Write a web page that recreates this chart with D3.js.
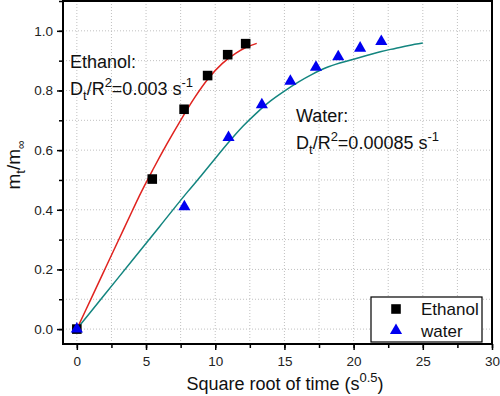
<!DOCTYPE html>
<html>
<head>
<meta charset="utf-8">
<script src="https://cdn.jsdelivr.net/npm/d3@7"></script>
<style>
  body { margin: 0; background: #fff; }
  svg { display: block; font-family: Arial, "Liberation Sans", sans-serif; }
  .grid line { stroke: #c0c0c0; stroke-width: 1; stroke-dasharray: 1,2; }
  .axis path { display: none; }
  .axis line { stroke: #000; stroke-width: 1.5; }
  .axis text { font-size: 13.5px; fill: #222; }
</style>
</head>
<body>
<div id="vis"></div>
<script>
const FRAME_WIDTH = 500;
const FRAME_HEIGHT = 396;
const PLOT = {left: 63, right: 492, top: 1, bottom: 344};

// measured points
const ethanolX = [0, 5.45, 7.75, 9.45, 10.9, 12.2];
const ethanolY = [0, 0.503, 0.737, 0.85, 0.92, 0.957];
const waterX = [0, 7.77, 10.96, 13.37, 15.43, 17.28, 18.89, 20.47, 22.0];
const waterY = [0, 0.41, 0.642, 0.752, 0.831, 0.878, 0.913, 0.942, 0.964];

// fitted curves
const ethanolFitX = [0, 1, 2, 3, 4, 4.5, 5.5, 6.5, 7.5, 8.5, 9.5, 10.5, 11.5, 12.2, 13];
const ethanolFitY = [0, 0.099, 0.198, 0.297, 0.396, 0.445, 0.535, 0.62, 0.70, 0.775, 0.84, 0.89, 0.925, 0.944, 0.958];
const waterFitX = [0, 2, 4, 6, 8, 9, 10, 11, 12, 13, 14, 15, 16, 17, 18, 19, 20, 21, 22, 23, 24, 25];
const waterFitY = [0, 0.115, 0.23, 0.345, 0.46, 0.515, 0.572, 0.628, 0.68, 0.725, 0.765, 0.798, 0.828, 0.854, 0.876, 0.892, 0.905, 0.918, 0.931, 0.941, 0.951, 0.959];

const xTicks = [0, 5, 10, 15, 20, 25, 30];
const yTicks = [0, 0.2, 0.4, 0.6, 0.8, 1.0];
const xMinor = d3.range(0, 30.01, 2.5);
const yMinor = d3.range(0, 1.101, 0.1);

const svg = d3.select("#vis").append("svg")
    .attr("width", FRAME_WIDTH)
    .attr("height", FRAME_HEIGHT);

const X_SCALE = d3.scaleLinear().domain([-1, 30]).range([PLOT.left, PLOT.right]);
const Y_SCALE = d3.scaleLinear().domain([-0.05, 1.1]).range([PLOT.bottom, PLOT.top]);

// dotted grid
const grid = svg.append("g").attr("class", "grid");
grid.selectAll(".gx").data(xMinor.filter(d => d < 30)).enter().append("line")
    .attr("x1", d => X_SCALE(d)).attr("x2", d => X_SCALE(d))
    .attr("y1", PLOT.top).attr("y2", PLOT.bottom);
grid.selectAll(".gy").data(yMinor.filter(d => d < 1.05)).enter().append("line")
    .attr("x1", PLOT.left).attr("x2", PLOT.right)
    .attr("y1", d => Y_SCALE(d)).attr("y2", d => Y_SCALE(d));

// axes: minor then major ticks
svg.append("g").attr("class", "axis")
    .attr("transform", "translate(0," + PLOT.bottom + ")")
    .call(d3.axisBottom(X_SCALE).tickValues(xMinor).tickSize(4).tickFormat(""));
svg.append("g").attr("class", "axis")
    .attr("transform", "translate(0," + PLOT.bottom + ")")
    .call(d3.axisBottom(X_SCALE).tickValues(xTicks).tickSize(6).tickPadding(6).tickFormat(d3.format("d")));
svg.append("g").attr("class", "axis")
    .attr("transform", "translate(" + PLOT.left + ",0)")
    .call(d3.axisLeft(Y_SCALE).tickValues(yMinor).tickSize(4).tickFormat(""));
svg.append("g").attr("class", "axis")
    .attr("transform", "translate(" + PLOT.left + ",0)")
    .call(d3.axisLeft(Y_SCALE).tickValues(yTicks).tickSize(6).tickPadding(4).tickFormat(d3.format(".1f")));

// frame
svg.append("rect")
    .attr("x", PLOT.left).attr("y", PLOT.top)
    .attr("width", PLOT.right - PLOT.left).attr("height", PLOT.bottom - PLOT.top)
    .attr("fill", "none").attr("stroke", "#000").attr("stroke-width", 2);

// fit lines
const line = d3.line()
    .x(d => X_SCALE(d[0]))
    .y(d => Y_SCALE(d[1]))
    .curve(d3.curveMonotoneX);

svg.append("path")
    .datum(ethanolFitX.map((x, i) => [x, ethanolFitY[i]]))
    .attr("d", line).attr("fill", "none")
    .attr("stroke", "#e0231f").attr("stroke-width", 1.5);
svg.append("path")
    .datum(waterFitX.map((x, i) => [x, waterFitY[i]]))
    .attr("d", line).attr("fill", "none")
    .attr("stroke", "#13857f").attr("stroke-width", 1.5);

// markers
const square = d3.symbol().type(d3.symbolSquare).size(92);
const triangle = d3.symbol().type(d3.symbolTriangle).size(64);

svg.selectAll(".eth").data(ethanolX).enter().append("path")
    .attr("d", square)
    .attr("transform", (d, i) => "translate(" + X_SCALE(d) + "," + Y_SCALE(ethanolY[i]) + ")")
    .attr("fill", "#000");
svg.selectAll(".wat").data(waterX).enter().append("path")
    .attr("d", triangle)
    .attr("transform", (d, i) => "translate(" + X_SCALE(d) + "," + Y_SCALE(waterY[i]) + ")")
    .attr("fill", "#0000f0");

// annotations
function addLabel(x, y, name, value) {
    svg.append("text").attr("x", x).attr("y", y)
        .attr("font-size", 18).attr("fill", "#111").text(name);
    const t = svg.append("text").attr("x", x).attr("y", y + 27)
        .attr("font-size", 18).attr("fill", "#111");
    t.append("tspan").text("D");
    t.append("tspan").attr("font-size", 13).attr("dy", 5).text("t");
    t.append("tspan").attr("dy", -5).text("/R");
    t.append("tspan").attr("font-size", 13).attr("dy", -8).text("2");
    t.append("tspan").attr("dy", 8).text("=" + value + " s");
    t.append("tspan").attr("font-size", 13).attr("dy", -8).text("-1");
}
addLabel(70, 68, "Ethanol:", "0.003");
addLabel(296, 122, "Water:", "0.00085");

// axis titles
const xt = svg.append("text")
    .attr("x", 285).attr("y", 390)
    .attr("text-anchor", "middle").attr("font-size", 18).attr("fill", "#111");
xt.append("tspan").text("Square root of time (s");
xt.append("tspan").attr("font-size", 13).attr("dy", -8).text("0.5");
xt.append("tspan").attr("dy", 8).text(")");

const yt = svg.append("text")
    .attr("transform", "translate(20,165) rotate(-90)")
    .attr("text-anchor", "middle").attr("font-size", 19).attr("fill", "#111");
yt.append("tspan").text("m");
yt.append("tspan").attr("font-size", 13).attr("dy", 5).text("t");
yt.append("tspan").attr("dy", -5).text("/m");
yt.append("tspan").attr("font-size", 12).attr("dy", 5).text("\u221E");

// legend
const legend = svg.append("g");
legend.append("rect")
    .attr("x", 371).attr("y", 297).attr("width", 111).attr("height", 45)
    .attr("fill", "#fff").attr("stroke", "#000").attr("stroke-width", 1.2);
const legendNames = ["Ethanol", "water"];
const legendShapes = [square, triangle];
const legendColors = ["#000", "#0000f0"];
legendNames.forEach((name, i) => {
    legend.append("path").attr("d", legendShapes[i])
        .attr("transform", "translate(396," + (309 + i * 21.5) + ")")
        .attr("fill", legendColors[i]);
    legend.append("text").attr("x", 421).attr("y", 315 + i * 21.5)
        .attr("font-size", 17).attr("fill", "#111").text(name);
});
</script>
</body>
</html>
